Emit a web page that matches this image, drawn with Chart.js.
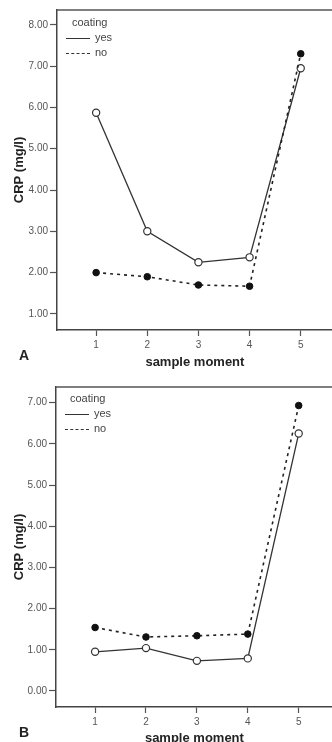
<!DOCTYPE html>
<html lang="en">
  <head>
    <meta charset="UTF-8" />
    <title>CRP by sample moment</title>
    <script src="https://cdn.jsdelivr.net/npm/chart.js"></script>
    <style>
      html, body { margin: 0; padding: 0; background: #fff; overflow: hidden; }
      #wrap { position: relative; width: 332px; height: 742px; overflow: hidden;
        font-family: "Liberation Sans", Arial, sans-serif; color: #333; }
      canvas { position: absolute; left: 0; }
      .panel { position: absolute; font-weight: bold; font-size: 14px; color: #222; }
      .legend { position: absolute; font-size: 11px; color: #444; line-height: 15px; }
      .legend .sw { display: inline-block; width: 24px; vertical-align: middle;
        margin-right: 5px; border-top: 1.3px solid #333; }
      .legend .sw.dash { border-top: 1.5px dashed #333; }
    </style>
  </head>
  <body>
    <div id="wrap">
      <canvas id="chartA" width="338" height="370" style="top:0"></canvas>
      <canvas id="chartB" width="338" height="377" style="top:370px"></canvas>
      <div class="legend" style="left:66px; top:15px">
        <div style="padding-left:6px">coating</div>
        <div><span class="sw"></span>yes</div>
        <div><span class="sw dash"></span>no</div>
      </div>
      <div class="legend" style="left:65px; top:391px">
        <div style="padding-left:5px">coating</div>
        <div><span class="sw"></span>yes</div>
        <div><span class="sw dash"></span>no</div>
      </div>
      <div class="panel" style="left:19px; top:347px">A</div>
      <div class="panel" style="left:19px; top:724px">B</div>
    </div>

    <script>
      const moments = [1, 2, 3, 4, 5];
      const xTicks = [1, 2, 3, 4, 5];

      // panel A
      const crpYesA = [5.87, 3.0, 2.25, 2.37, 6.95];
      const crpNoA = [2.0, 1.9, 1.7, 1.67, 7.3];
      const yTicksA = [1, 2, 3, 4, 5, 6, 7, 8];

      // panel B
      const crpYesB = [0.95, 1.04, 0.73, 0.79, 6.25];
      const crpNoB = [1.54, 1.31, 1.34, 1.38, 6.93];
      const yTicksB = [0, 1, 2, 3, 4, 5, 6, 7];

      const frame = {
        id: "frame",
        beforeDatasetsDraw(chart) {
          const { ctx, chartArea } = chart;
          ctx.save();
          ctx.strokeStyle = "#555";
          ctx.lineWidth = 1.3;
          ctx.beginPath();
          ctx.moveTo(chartArea.left, chartArea.top);
          ctx.lineTo(chartArea.right, chartArea.top);
          ctx.stroke();
          ctx.restore();
        },
      };

      function makeChart(id, yes, no, yTicks, opt) {
        const ctx = document.getElementById(id).getContext("2d");
        return new Chart(ctx, {
          type: "line",
          data: {
            datasets: [
              {
                label: "no",
                data: moments.map((m, i) => ({ x: m, y: no[i] })),
                borderColor: "#222",
                borderWidth: 1.6,
                borderDash: [3, 4],
                pointRadius: 3.3,
                pointBackgroundColor: "#111",
                pointBorderColor: "#111",
                pointBorderWidth: 1,
                tension: 0,
              },
              {
                label: "yes",
                data: moments.map((m, i) => ({ x: m, y: yes[i] })),
                borderColor: "#333",
                borderWidth: 1.3,
                pointRadius: 3.6,
                pointBackgroundColor: "#fff",
                pointBorderColor: "#333",
                pointBorderWidth: 1.2,
                tension: 0,
              },
            ],
          },
          options: {
            responsive: false,
            animation: false,
            devicePixelRatio: 1,
            clip: false,
            layout: { padding: { top: opt.top, left: 0, right: 0, bottom: 0 } },
            plugins: { legend: { display: false }, tooltip: { enabled: false } },
            scales: {
              x: {
                type: "linear",
                min: opt.xMin,
                max: opt.xMax,
                afterFit: (s) => { s.height = 40; },
                afterBuildTicks: (s) => { s.ticks = xTicks.map((v) => ({ value: v })); },
                grid: { drawOnChartArea: false, tickLength: 6, color: "#555", tickWidth: 1.2 },
                border: { color: "#444", width: 1.5 },
                ticks: {
                  color: "#555",
                  padding: 3,
                  font: { family: "Liberation Sans", size: 10 },
                  callback: (v) => String(v),
                },
                title: {
                  display: true,
                  text: "sample moment",
                  color: "#222",
                  padding: { top: 0, bottom: opt.titlePad },
                  font: { family: "Liberation Sans", size: 13, weight: "bold" },
                },
              },
              y: {
                min: opt.yMin,
                max: opt.yMax,
                afterFit: (s) => { s.width = opt.left; },
                afterBuildTicks: (s) => { s.ticks = yTicks.map((v) => ({ value: v })); },
                grid: { drawOnChartArea: false, tickLength: 7, color: "#555", tickWidth: 1.2 },
                border: { color: "#444", width: 1.5 },
                ticks: {
                  color: "#555",
                  padding: 2,
                  font: { family: "Liberation Sans", size: 10 },
                  callback: (v) => Number(v).toFixed(2),
                },
                title: {
                  display: true,
                  text: "CRP (mg/l)",
                  color: "#222",
                  padding: { top: 12, bottom: 0 },
                  font: { family: "Liberation Sans", size: 13, weight: "bold" },
                },
              },
            },
          },
          plugins: [frame],
        });
      }

      makeChart("chartA", crpYesA, crpNoA, yTicksA, {
        top: 10, left: 57, xMin: 0.235, xMax: 5.627, yMin: 0.61, yMax: 8.36, titlePad: 0,
      });
      makeChart("chartB", crpYesB, crpNoB, yTicksB, {
        top: 17, left: 56, xMin: 0.232, xMax: 5.67, yMin: -0.39, yMax: 7.38, titlePad: 1,
      });
    </script>
  </body>
</html>
